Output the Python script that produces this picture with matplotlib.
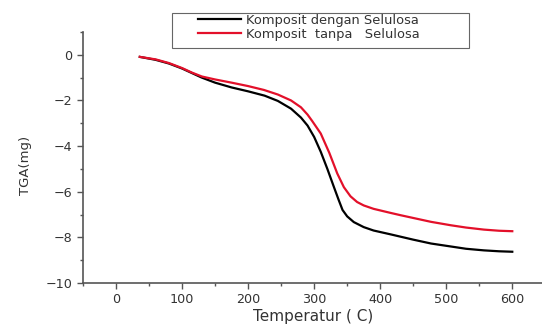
import numpy as np
import matplotlib
matplotlib.use("Agg")
import matplotlib.pyplot as plt
from matplotlib.ticker import MultipleLocator
from matplotlib.patches import Rectangle

# Komposit dengan Selulosa (black)
temp_with = [36, 60, 80, 100, 115, 130, 150, 175, 200, 225, 245, 265, 280, 290,
             300, 310, 320, 330, 337, 343, 350, 360, 375, 390, 416, 450, 477,
             507, 530, 557, 580, 600]
tga_with = [-0.09, -0.22, -0.38, -0.6, -0.8, -1.0, -1.22, -1.43, -1.6, -1.79,
            -2.02, -2.36, -2.75, -3.1, -3.6, -4.25, -5.0, -5.8, -6.35, -6.8,
            -7.08, -7.33, -7.55, -7.7, -7.87, -8.1, -8.27, -8.4, -8.5, -8.57,
            -8.61, -8.63]

# Komposit tanpa Selulosa (red)
temp_without = [36, 60, 80, 100, 115, 130, 150, 175, 200, 224, 245, 265, 280,
                290, 297, 310, 323, 335, 345, 355, 365, 375, 390, 416, 431, 477,
                507, 530, 557, 580, 600]
tga_without = [-0.09, -0.2, -0.36, -0.58, -0.78, -0.95, -1.08, -1.22, -1.37,
               -1.54, -1.74, -2.0, -2.3, -2.62, -2.9, -3.45, -4.3, -5.2, -5.8,
               -6.2, -6.45, -6.6, -6.75, -6.93, -7.03, -7.32, -7.47, -7.57, -7.66,
               -7.71, -7.73]

labels = ["Komposit dengan Selulosa", "Komposit  tanpa   Selulosa"]

text_col = "#333333"
fig = plt.figure(figsize=(5.42, 3.26), dpi=100)
ax = fig.add_axes([83/542, 1 - 283/326, 1 - 83/542, (283 - 32)/326])

l1, = ax.plot(temp_with, tga_with, color="black", lw=1.6)
l2, = ax.plot(temp_without, tga_without, color="#e3102a", lw=1.6)

ax.set_xlim(-50, 645)
ax.set_ylim(-10, 1)
ax.xaxis.set_major_locator(MultipleLocator(100))
ax.xaxis.set_minor_locator(MultipleLocator(50))
ax.yaxis.set_major_locator(MultipleLocator(2))
ax.yaxis.set_minor_locator(MultipleLocator(1))
ax.tick_params(which="major", direction="out", length=4, width=1, colors="#555555",
               labelsize=9.2, labelcolor=text_col)
ax.tick_params(which="minor", direction="out", length=2.5, width=1, colors="#555555")
for s in ["top", "right"]:
    ax.spines[s].set_visible(False)
for s in ["left", "bottom"]:
    ax.spines[s].set_color("#555555")
    ax.spines[s].set_linewidth(1.2)

ax.set_xlabel("Temperatur ( C)", fontsize=11, color=text_col)
ax.xaxis.set_label_coords(313/542, 1 - 317/326, transform=fig.transFigure)
ax.xaxis.label.set_va("center")
ax.set_ylabel("TGA(mg)", fontsize=9.5, color=text_col)
ax.yaxis.set_label_coords(25/542, 1 - 165/326, transform=fig.transFigure)
ax.yaxis.label.set_va("center")

# legend frame drawn by hand so the padding matches
fig.patches.append(Rectangle((172/542, 1 - 48/326), (469 - 172)/542, 35/326,
                             transform=fig.transFigure, fill=False,
                             edgecolor="#666666", lw=0.8))
leg = fig.legend([l1, l2], labels, loc="upper left",
                 bbox_to_anchor=(198/542, 1 - 14/326), fontsize=9.4,
                 frameon=False, handlelength=3.3, handletextpad=0.35,
                 borderpad=0, labelspacing=0.05, borderaxespad=0)
for t in leg.get_texts():
    t.set_color(text_col)

fig.savefig("out.png", dpi=100)
